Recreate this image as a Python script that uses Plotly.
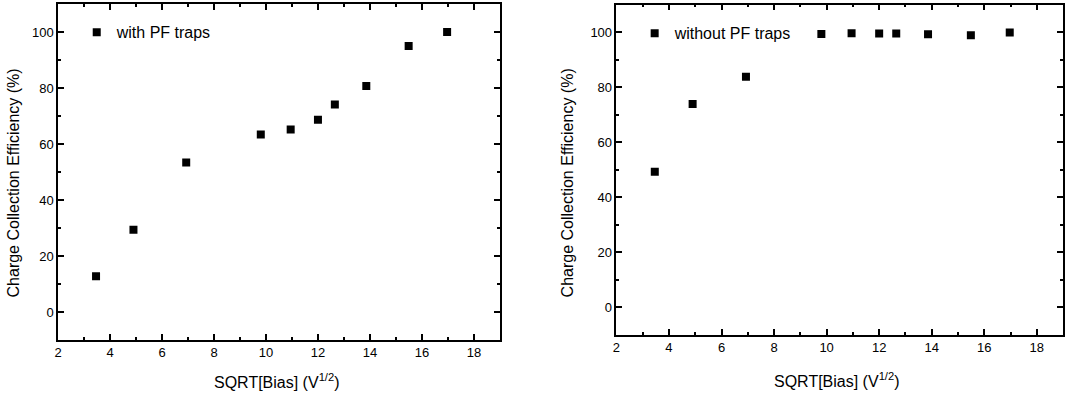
import plotly.graph_objects as go

W, H = 1084, 394

# Data
bias_sqrt = [3.46, 4.90, 6.93, 9.80, 10.95, 12.00, 12.65, 13.86, 15.49, 16.97]
cce_with_pf = [12.8, 29.4, 53.4, 63.4, 65.2, 68.7, 74.1, 80.7, 95.0, 100.0]
cce_without_pf = [49.3, 73.9, 83.8, 99.4, 99.6, 99.5, 99.5, 99.3, 98.9, 99.9]

x_title = "SQRT[Bias] (V<sup>1/2</sup>)"
y_title = "Charge Collection Efficiency (%)"

FONT = "Liberation Sans, Arial, sans-serif"

def px_x(p):
    return p / W

def px_y(p):
    return 1 - p / H

fig = go.Figure()
fig.add_trace(go.Scatter(
    x=bias_sqrt, y=cce_with_pf, mode="markers", name="with PF traps",
    marker=dict(symbol="square", size=8, color="black"),
    xaxis="x", yaxis="y", legend="legend"))
fig.add_trace(go.Scatter(
    x=bias_sqrt, y=cce_without_pf, mode="markers", name="without PF traps",
    marker=dict(symbol="square", size=8, color="black"),
    xaxis="x2", yaxis="y2", legend="legend2"))

axis_common = dict(
    showline=True, linecolor="black", linewidth=1.5, mirror="ticks",
    ticks="inside", ticklen=6, tickwidth=1.5, tickcolor="black",
    showgrid=False, zeroline=False,
    tickfont=dict(family=FONT, size=13, color="black"),
    minor=dict(ticks="inside", ticklen=3, tickwidth=1.5, tickcolor="black", showgrid=False),
)

xcommon = dict(axis_common, range=[2, 19], dtick=2, tick0=2)
ycommon = dict(axis_common, range=[-10, 110], dtick=20, tick0=0)

fig.update_layout(
    width=W, height=H,
    margin=dict(l=0, r=0, t=0, b=0),
    paper_bgcolor="white", plot_bgcolor="white",
    font=dict(family=FONT, size=16, color="black"),
    xaxis=dict(xcommon, domain=[px_x(54.3), px_x(497.7)], anchor="y",
               minor=dict(axis_common["minor"], dtick=1)),
    yaxis=dict(ycommon, domain=[px_y(340), px_y(4)], anchor="x",
               minor=dict(axis_common["minor"], dtick=10)),
    xaxis2=dict(xcommon, domain=[px_x(614.7), px_x(1063)], anchor="y2",
                minor=dict(axis_common["minor"], dtick=1)),
    yaxis2=dict(ycommon, domain=[px_y(335), px_y(4.7)], anchor="x2",
                minor=dict(axis_common["minor"], dtick=10)),
    legend=dict(x=px_x(73), y=px_y(32.3), xanchor="left", yanchor="middle",
                bgcolor="rgba(0,0,0,0)", font=dict(family=FONT, size=16, color="black")),
    legend2=dict(x=px_x(633), y=px_y(33.3), xanchor="left", yanchor="middle",
                 bgcolor="rgba(0,0,0,0)", font=dict(family=FONT, size=16, color="black")),
    showlegend=True,
)

annos = [
    dict(text=x_title, x=px_x(274), y=px_y(381), xanchor="center", yanchor="middle"),
    dict(text=x_title, x=px_x(836.5), y=px_y(380), xanchor="center", yanchor="middle"),
    dict(text=y_title, x=px_x(10), y=px_y(182.5), xanchor="center", yanchor="middle", textangle=-90),
    dict(text=y_title, x=px_x(566), y=px_y(182.5), xanchor="center", yanchor="middle", textangle=-90),
]
for a in annos:
    fig.add_annotation(xref="paper", yref="paper", showarrow=False,
                       font=dict(family=FONT, size=16, color="black"), **a)

fig.write_html("out.html", config={"displayModeBar": False},
               post_script="document.body.style.margin='0';")
